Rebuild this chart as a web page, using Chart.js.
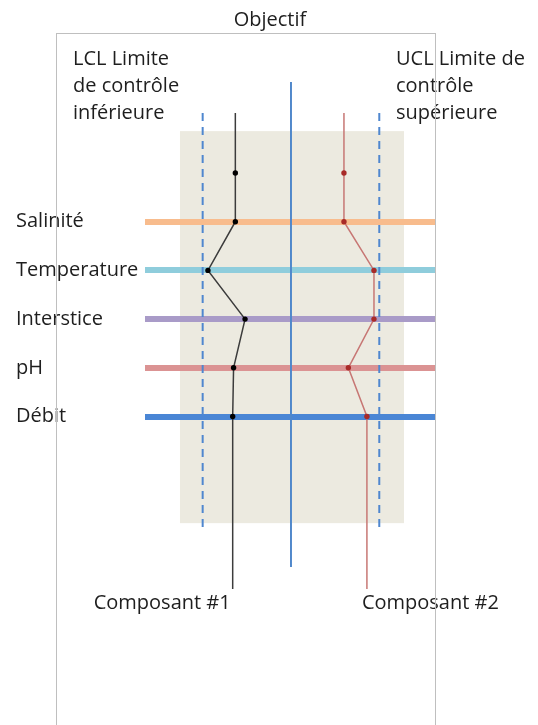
<!DOCTYPE html>
<html><head><meta charset="utf-8">
<script src="https://cdn.jsdelivr.net/npm/chart.js@4.4.0/dist/chart.umd.min.js"></script>
<style>
html,body{margin:0;padding:0;background:#fff;}
#wrap{position:relative;width:538px;height:725px;overflow:hidden;}
#frame{position:absolute;left:56px;top:33px;width:380px;height:720px;border:1px solid #BFBFBF;border-bottom:none;box-sizing:border-box;pointer-events:none;z-index:2;}
canvas{position:absolute;left:0;top:0;}
</style></head><body>
<div id="wrap"><canvas id="c" width="538" height="725"></canvas><div id="frame"></div></div>
<script>
// ---- data ----
const CATEGORIES = ['', 'Salinité', 'Temperature', 'Interstice', 'pH', 'Débit'];
const COMPOSANT_1 = [-0.63, -0.63, -0.94, -0.52, -0.65, -0.66];
const COMPOSANT_2 = [0.60, 0.60, 0.94, 0.94, 0.65, 0.86];
const SERIES_NAMES = ['Composant #1', 'Composant #2'];
const LCL = -1;
const OBJECTIF = 0;
const UCL = 1;
const LCL_LABEL = ['LCL Limite', 'de contrôle', 'inférieure'];
const UCL_LABEL = ['UCL Limite de', 'contrôle', 'supérieure'];
const OBJECTIF_LABEL = 'Objectif';

// ---- layout / style ----
const BAR_COLORS = ['transparent', '#F8BC8D', '#8FCDDC', '#A99BC8', '#DB9393', '#4A86D5'];
const FONT = '"Open Sans", "Noto Sans", sans-serif';
const TEXT_COLOR = '#1e1e1e';
const STEM_TOP = -1.23, STEM_BOTTOM = 8.54;
const LIMIT_TOP = -1.23, LIMIT_BOTTOM = 7.35;
const OBJ_TOP = -1.87, OBJ_BOTTOM = 8.09;
const BAND = {x0: -1.257, x1: 1.28, y0: -0.86, y1: 7.19};

function stemmed(values) {
  const pts = values.map((v, i) => ({x: v, y: i}));
  return [{x: values[0], y: STEM_TOP}, ...pts, {x: values[values.length - 1], y: STEM_BOTTOM}];
}
function vline(xv, y0, y1) { return [{x: xv, y: y0}, {x: xv, y: y1}]; }
const endless = (n) => (ctx) => (ctx.dataIndex === 0 || ctx.dataIndex === n + 1) ? 0 : 2.7;

const bandPlugin = {
  id: 'band',
  beforeDraw(chart) {
    const {ctx, scales: {x, y}} = chart;
    ctx.save();
    ctx.fillStyle = '#ECEAE0';
    const l = x.getPixelForValue(BAND.x0), r = x.getPixelForValue(BAND.x1);
    const t = y.getPixelForValue(BAND.y0), b = y.getPixelForValue(BAND.y1);
    ctx.fillRect(l, t, r - l, b - t);
    ctx.restore();
  }
};
const textPlugin = {
  id: 'texts',
  afterDraw(chart) {
    const {ctx, scales: {x}} = chart;
    ctx.save();
    ctx.font = '20px ' + FONT;
    ctx.fillStyle = TEXT_COLOR;
    ctx.textBaseline = 'alphabetic';
    ctx.textAlign = 'center';
    ctx.fillText(OBJECTIF_LABEL, chart.width / 2 + 1, 26);
    ctx.textAlign = 'left';
    LCL_LABEL.forEach((s, i) => ctx.fillText(s, 73, 65 + i * 27));
    UCL_LABEL.forEach((s, i) => ctx.fillText(s, 396, 65 + i * 27));
    const n = COMPOSANT_1.length - 1;
    ctx.textAlign = 'right';
    ctx.fillText(SERIES_NAMES[0], x.getPixelForValue(COMPOSANT_1[n]) - 2, 609);
    ctx.textAlign = 'left';
    ctx.fillText(SERIES_NAMES[1], x.getPixelForValue(COMPOSANT_2[n]) - 5, 609);
    ctx.restore();
  }
};

new Chart(document.getElementById('c'), {
  type: 'scatter',
  data: {
    datasets: [
      {label: SERIES_NAMES[0], data: stemmed(COMPOSANT_1), showLine: true, borderColor: '#3C3C3C', borderWidth: 1.5,
       backgroundColor: '#000', pointBackgroundColor: '#000', pointBorderWidth: 0, pointRadius: endless(COMPOSANT_1.length)},
      {label: SERIES_NAMES[1], data: stemmed(COMPOSANT_2), showLine: true, borderColor: '#C77774', borderWidth: 1.5,
       backgroundColor: '#A82A28', pointBackgroundColor: '#A82A28', pointBorderWidth: 0, pointRadius: endless(COMPOSANT_2.length)},
      {label: 'LCL', data: vline(LCL, LIMIT_TOP, LIMIT_BOTTOM), showLine: true, borderColor: '#4F87CF', borderWidth: 2, borderDash: [8, 6], pointRadius: 0},
      {label: 'UCL', data: vline(UCL, LIMIT_TOP, LIMIT_BOTTOM), showLine: true, borderColor: '#4F87CF', borderWidth: 2, borderDash: [8, 6], pointRadius: 0},
      {label: 'Objectif', data: vline(OBJECTIF, OBJ_TOP, OBJ_BOTTOM), showLine: true, borderColor: '#5088CB', borderWidth: 2, pointRadius: 0}
    ]
  },
  options: {
    responsive: false,
    animation: false,
    events: [],
    layout: {padding: {left: 16, right: 103, top: 75.6, bottom: 113.7}},
    plugins: {legend: {display: false}, tooltip: {enabled: false}, title: {display: false}},
    scales: {
      x: {type: 'linear', display: false, min: -1.653, max: 1.631},
      y: {
        type: 'linear', reverse: true, min: -2, max: 9,
        afterBuildTicks: (s) => { s.ticks = CATEGORIES.map((_, i) => ({value: i})); },
        afterFit: (s) => { s.width = 129; },
        border: {display: false},
        grid: {
          drawTicks: false,
          color: (c) => BAR_COLORS[c.tick ? c.tick.value : 0] || 'transparent',
          lineWidth: (c) => (c.tick && c.tick.value > 0) ? 6 : 0
        },
        ticks: {
          autoSkip: false, crossAlign: 'far', padding: 0,
          color: TEXT_COLOR, font: {family: FONT, size: 20},
          callback: (v) => CATEGORIES[v] ?? ''
        }
      }
    }
  },
  plugins: [bandPlugin, textPlugin]
});
</script>
</body></html>
